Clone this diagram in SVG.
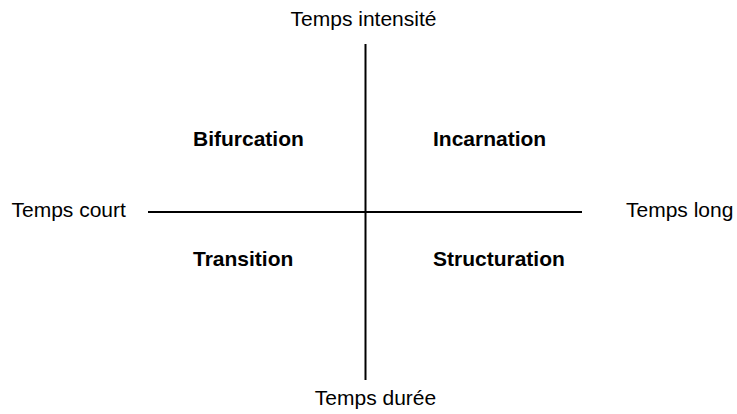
<svg xmlns="http://www.w3.org/2000/svg" width="737" height="414" viewBox="0 0 737 414">
<style>
text{font-family:"Liberation Sans",Arial,sans-serif;font-size:21px;fill:#000}
.b{font-weight:bold}
.ax{stroke:#000;stroke-width:2;fill:none}
</style>
<rect width="737" height="414" fill="#fff"/>
<g id="connectors">
<line class="ax" x1="365.5" y1="44" x2="365.5" y2="380"/>
<line class="ax" x1="148" y1="212" x2="582" y2="212"/>
</g>
<g id="temps-intensite"><text x="363.5" y="26" text-anchor="middle">Temps intensité</text></g>
<g id="temps-duree"><text x="375.5" y="405" text-anchor="middle">Temps durée</text></g>
<g id="temps-court"><text x="11.5" y="217">Temps court</text></g>
<g id="temps-long"><text x="626" y="217">Temps long</text></g>
<g id="bifurcation"><text class="b" x="193" y="146">Bifurcation</text></g>
<g id="incarnation"><text class="b" x="433" y="146">Incarnation</text></g>
<g id="transition"><text class="b" x="193" y="266">Transition</text></g>
<g id="structuration"><text class="b" x="433" y="266">Structuration</text></g>
</svg>
